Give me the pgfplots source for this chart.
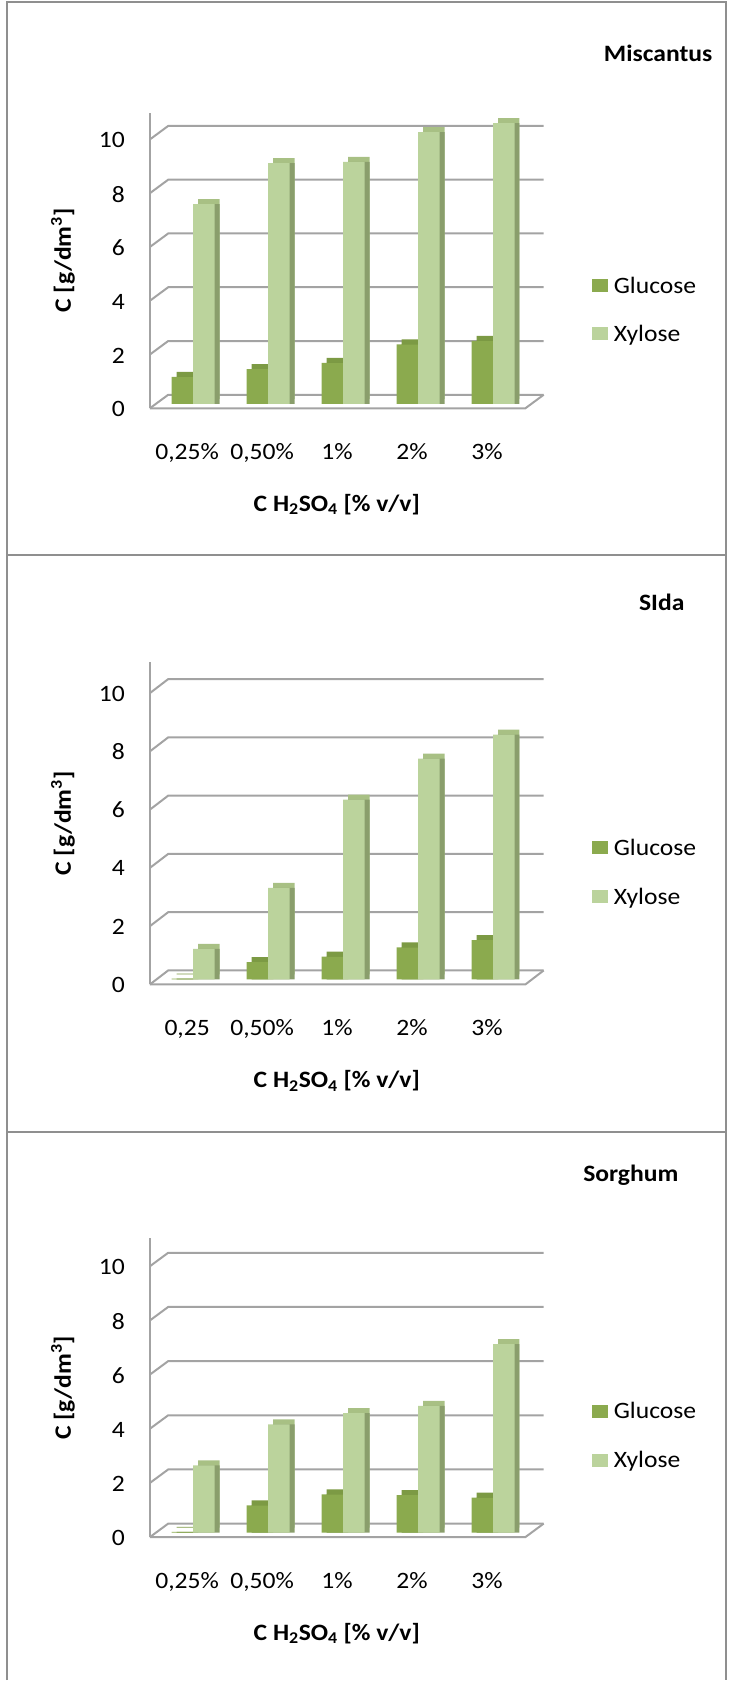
\documentclass[border=0pt]{standalone}
\usepackage{pgfplots}
\pgfplotsset{compat=1.18}
\usepackage{pgfplotstable}
\usepackage{fontspec}
\setmainfont{Carlito}[FakeStretch=1.09]

\definecolor{glufront}{HTML}{8BAA4E}
\definecolor{glutop}{HTML}{7C9A44}
\definecolor{gluside}{HTML}{6C8738}
\definecolor{xylfront}{HTML}{BBD39C}
\definecolor{xyltop}{HTML}{A8C084}
\definecolor{xylside}{HTML}{8A9E6C}
\definecolor{gridgray}{HTML}{A3A3A3}
\definecolor{framegray}{HTML}{8F8F8F}

\newcommand{\lbl}{\fontsize{23.5}{28}\selectfont}

% cat: 0=0,25% 1=0,50% 2=1% 3=2% 4=3%
\pgfplotstableread{
cat glu  xyl
0   1.00 7.43
1   1.29 8.95
2   1.52 9.00
3   2.21 10.10
4   2.34 10.44
}\miscantus

\pgfplotstableread{
cat glu  xyl
0   0.03 1.05
1   0.59 3.14
2   0.78 6.17
3   1.10 7.58
4   1.35 8.40
}\sida

\pgfplotstableread{
cat glu  xyl
0   0.03 2.48
1   1.01 4.00
2   1.41 4.41
3   1.38 4.68
4   1.29 6.96
}\sorghum

\tikzset{gridline/.style={draw=gridgray, line width=2pt}}

\pgfplotsset{
  panel/.style={
    scale only axis, width=375.7pt, anchor=south west, clip=false,
    xmin=-0.577, xmax=4.432,
    axis line style={draw=none}, major tick length=0pt,
    ytick={0,2,...,10}, xtick={0,...,4},
    /pgf/number format/assume math mode=true,
    yticklabel style={anchor=east, inner sep=0pt, xshift=-25pt, yshift=-5.5pt, font=\lbl},
    xticklabel style={anchor=base, inner sep=0pt, xshift=-6pt, yshift=-51pt, font=\lbl},
    ybar, bar width=21.5pt,
    every axis y label/.style={at={(rel axis cs:-0.2316,0.5)}, anchor=center, rotate=90, font=\lbl\bfseries},
    every axis x label/.style={at={(rel axis cs:0.4977,0)}, anchor=base, yshift=-103pt, font=\lbl\bfseries},
    ylabel={C [g/dm\textsuperscript{3}]},
    xlabel={C H\textsubscript{2}SO\textsubscript{4} [\% v/v]},
  },
}

% floor, wall grid and the slanted ticks of the 3-D frame
\newcommand{\backdrop}[1]{%
  \draw[gridline] (rel axis cs:0,0) -- (rel axis cs:0,1);
  \pgfplotsinvokeforeach{0,2,4,6,8,10}{%
    \draw[gridline] ([yshift=-#1]axis cs:-0.577,##1) -- ([xshift=18.3pt,yshift=9pt]axis cs:-0.577,##1) -- ([xshift=18.3pt,yshift=9pt]axis cs:4.432,##1);}
  \draw[gridline] ([yshift=-#1]axis cs:-0.577,0) -- ([yshift=-#1]axis cs:4.432,0) -- ([xshift=18.3pt,yshift=9pt]axis cs:4.432,0);
}

\newcommand{\bars}[1]{%
  \addplot[fill=glutop, draw=none, bar shift=-10.75pt, xshift=5pt, yshift=5pt] table[x=cat, y=glu] {#1};
  \addplot[fill=gluside, draw=none, bar shift=-10.75pt, xshift=5pt] table[x=cat, y=glu] {#1};
  \addplot[fill=xyltop, draw=none, bar shift=10.75pt, xshift=5pt, yshift=5pt] table[x=cat, y=xyl] {#1};
  \addplot[fill=xylside, draw=none, bar shift=10.75pt, xshift=5pt] table[x=cat, y=xyl] {#1};
  \addplot[fill=glufront, draw=none, bar shift=-10.75pt] table[x=cat, y=glu] {#1};
  \addplot[fill=xylfront, draw=none, bar shift=10.75pt] table[x=cat, y=xyl] {#1};
}

\newcommand{\legendat}[2]{%
  \fill[glufront] (592.5pt,-#1pt-6.5pt) rectangle (608pt,-#1pt+6.5pt);
  \node[anchor=base west, inner sep=0pt, font=\lbl] at (614pt,-#1pt-7.7pt) {Glucose};
  \fill[xylfront] (592.5pt,-#2pt-6.5pt) rectangle (608pt,-#2pt+6.5pt);
  \node[anchor=base west, inner sep=0pt, font=\lbl] at (614pt,-#2pt-7.7pt) {Xylose};
}

\begin{document}
\begin{tikzpicture}
\path (0,0) rectangle (731pt,-1681pt);

% panel frames
\draw[framegray, line width=2pt] (7pt,-1681pt) -- (7pt,-2pt) -- (726pt,-2pt) -- (726pt,-1681pt);
\draw[framegray, line width=2pt] (7pt,-555.5pt) -- (726pt,-555.5pt);
\draw[framegray, line width=2pt] (7pt,-1132.6pt) -- (726pt,-1132.6pt);

% Miscantus
\begin{axis}[panel, at={(150pt,-408.5pt)}, height=295.8pt,
  ymin=-0.167, ymax=10.829,
  xticklabels={{0,25\%},{0,50\%},1\%,2\%,3\%}]
  \backdrop{4.5pt}
  \bars{\miscantus}
\end{axis}
\node[anchor=base east, inner sep=0pt, font=\lbl\bfseries] at (713pt,-61.5pt) {Miscantus};
\legendat{286}{334}

% Sida
\begin{axis}[panel, at={(150pt,-985pt)}, height=322.3pt,
  ymin=-0.1715, ymax=10.885,
  xticklabels={{0,25},{0,50\%},1\%,2\%,3\%}]
  \backdrop{5pt}
  \bars{\sida}
\end{axis}
\node[anchor=base east, inner sep=0pt, font=\lbl\bfseries] at (685pt,-610.5pt) {SIda};
\legendat{848}{897}

% Sorghum
\begin{axis}[panel, at={(150pt,-1538pt)}, height=299pt,
  ymin=-0.166, ymax=10.867,
  xticklabels={{0,25\%},{0,50\%},1\%,2\%,3\%}]
  \backdrop{4.5pt}
  \bars{\sorghum}
\end{axis}
\node[anchor=base east, inner sep=0pt, font=\lbl\bfseries] at (679pt,-1182.5pt) {Sorghum};
\legendat{1412}{1461}
\end{tikzpicture}
\end{document}
